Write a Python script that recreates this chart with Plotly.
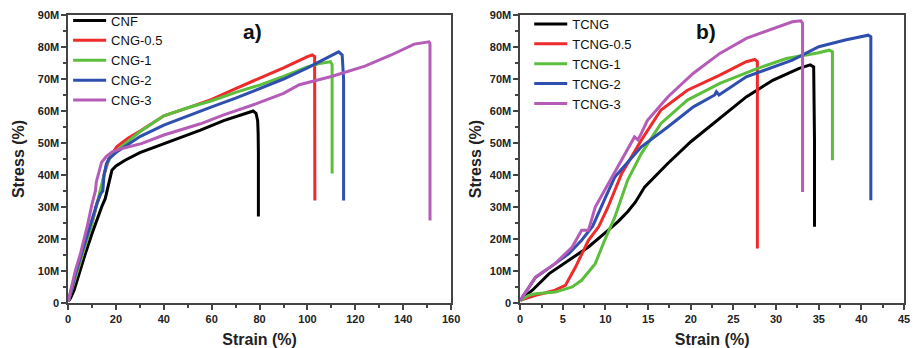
import plotly.graph_objects as go

# ---------------- Panel a) data (strain %, stress in M) ----------------
cnf_x = [0, 1, 2.5, 4.5, 7, 10, 12, 14, 15.5, 17, 18.3, 20, 23.8, 30, 40.2, 55.3, 65, 72, 77.3, 78.5, 79.2, 79.4, 79.5, 79.5]
cnf_y = [0.5, 1.5, 4, 9, 15, 21.7, 26, 30, 32.6, 37.9, 41.5, 42.8, 44.6, 47, 49.8, 54, 57, 58.8, 60, 59.3, 57, 53, 46.7, 27]

cng05_x = [0, 1, 3, 5, 8, 10, 12, 13.5, 15, 17, 20.3, 25, 30.6, 40, 50, 60, 70, 80, 90, 100, 102, 103, 103.1, 103.1]
cng05_y = [0.5, 3, 8, 13, 20, 25, 31, 34, 40, 45, 48.8, 51.5, 54, 58.5, 61, 63.6, 67, 70.2, 73.5, 77, 77.5, 77, 60, 32]

cng1_x = [0, 1, 3, 5, 8, 10, 12, 14, 16, 18, 20, 25, 30, 40, 50, 60, 70, 80, 90, 100, 105, 109.6, 110.3, 110.3]
cng1_y = [0.5, 3, 8, 13, 20, 25, 31, 37, 43, 46, 47.5, 50.5, 53.5, 58.5, 61, 63.2, 65.8, 68.1, 70.8, 73.8, 74.8, 75.4, 74.5, 40.5]

cng2_x = [0, 1, 3, 5, 8, 10, 12, 13.5, 14.5, 15, 16, 17, 20, 25, 30, 40, 50, 60, 70, 80, 90, 100, 108, 113, 114.5, 115.1, 115.1]
cng2_y = [0.5, 3, 9, 14, 21, 26, 31, 34, 35, 40, 43.5, 45, 47, 49.5, 52, 55.6, 58.5, 61.3, 64, 67, 70, 73.5, 76.5, 78.5, 77.5, 70, 32]

cng3_x = [0, 1, 3, 5, 8, 10, 11.4, 11.8, 12.8, 14, 16, 18.3, 22, 30.6, 40, 55.3, 65, 78.7, 90, 96.6, 110, 124, 135, 144.6, 150.8, 151.2, 151.2]
cng3_y = [0.5, 4, 10, 15, 24, 31, 35, 37.9, 41, 44, 45.8, 47.2, 48.2, 49.8, 52.5, 56, 58.8, 62.3, 65.5, 68.2, 70.8, 74, 77.5, 80.9, 81.6, 81, 25.8]

# ---------------- Panel b) data ----------------
tcng_x = [0, 1.43, 3.4, 5.7, 8, 10.3, 11.5, 12.6, 13.5, 14.6, 17.3, 20, 23.4, 26.5, 29.6, 32.7, 34, 34.4, 34.5, 34.5]
tcng_y = [0.8, 4, 9.2, 13.3, 17.5, 22.7, 25.5, 28.5, 31.5, 36.3, 43.6, 50.4, 57.7, 64.4, 69.6, 73.3, 74.4, 73.8, 50, 23.8]

tcng05_x = [0, 1, 1.8, 3, 4.1, 5.3, 6.5, 8, 9.2, 10.3, 11.9, 14.2, 16.5, 19.6, 23.4, 26.5, 27.5, 27.8, 27.8]
tcng05_y = [0.8, 1.8, 2.4, 3.2, 4, 5.5, 11.3, 19.6, 23.8, 30, 40.5, 50.9, 60.3, 66.5, 71.2, 75.4, 76.1, 75.4, 17]

tcng1_x = [0, 1, 1.8, 4.1, 6.1, 7.2, 8.8, 9.9, 11.1, 12.6, 14.2, 16.5, 19.6, 23.4, 27.3, 31.2, 35, 36.2, 36.6, 36.6]
tcng1_y = [0.8, 2.4, 2.9, 3.4, 5, 7.1, 12.3, 19.6, 26.9, 38.4, 46.7, 56.1, 63.4, 68.6, 72.8, 76.4, 78.2, 79, 78.5, 44.6]

tcng2_x = [0, 1, 1.8, 4.1, 5.7, 7.2, 8.5, 10, 11.1, 14.2, 17.3, 20.3, 22.8, 23, 23.3, 26.5, 29.6, 31.9, 35, 38.1, 40.8, 41.1, 41.1]
tcng2_y = [0.8, 5, 8, 12.3, 15.4, 19.6, 24, 33, 39.4, 48.8, 55, 61.3, 65, 66, 65, 70.7, 73.8, 75.9, 80.1, 82.2, 83.7, 83.2, 32.1]

tcng3_x = [0, 1, 1.8, 4.1, 6.1, 7.2, 8, 8.8, 10.3, 11.9, 13.4, 13.8, 14.2, 14.9, 17.3, 20.3, 23.4, 26.5, 29.6, 31.9, 32.9, 33.1, 33.1]
tcng3_y = [0.8, 5, 8.1, 12.3, 17.5, 22.7, 22.7, 30, 37.3, 44.6, 51.9, 51, 53, 57, 64.4, 71.8, 78, 82.7, 85.8, 87.9, 88.2, 87.4, 34.7]

names_a = ["CNF", "CNG-0.5", "CNG-1", "CNG-2", "CNG-3"]
names_b = ["TCNG", "TCNG-0.5", "TCNG-1", "TCNG-2", "TCNG-3"]
colors = ["#000000", "#ee2a2a", "#5cbf3c", "#2f4fae", "#b45cb8"]

y_tickvals = [0, 10, 20, 30, 40, 50, 60, 70, 80, 90]
y_ticktext = ["0", "10M", "20M", "30M", "40M", "50M", "60M", "70M", "80M", "90M"]

series_a = [(cnf_x, cnf_y), (cng05_x, cng05_y), (cng1_x, cng1_y), (cng2_x, cng2_y), (cng3_x, cng3_y)]
series_b = [(tcng_x, tcng_y), (tcng05_x, tcng05_y), (tcng1_x, tcng1_y), (tcng2_x, tcng2_y), (tcng3_x, tcng3_y)]

FONT = "Arial, Liberation Sans, sans-serif"

fig = go.Figure()
for (xs, ys), n, c in zip(series_a, names_a, colors):
    fig.add_trace(go.Scatter(x=xs, y=ys, mode="lines", name=n, line=dict(color=c, width=3),
                             xaxis="x", yaxis="y", legend="legend"))
for (xs, ys), n, c in zip(series_b, names_b, colors):
    fig.add_trace(go.Scatter(x=xs, y=ys, mode="lines", name=n, line=dict(color=c, width=3),
                             xaxis="x2", yaxis="y2", legend="legend2"))

axis_common = dict(showline=True, linecolor="#444444", linewidth=1.5, mirror=True,
                   ticks="outside", ticklen=5, tickwidth=1.5, tickcolor="#444444",
                   showgrid=False, zeroline=False,
                   tickfont=dict(family=FONT, size=11, color="#222222", weight="bold"))
title_font = dict(family=FONT, size=16, color="#222222", weight="bold")

fig.update_layout(
    width=919, height=348,
    margin=dict(l=0, r=0, t=15, b=45),
    paper_bgcolor="white", plot_bgcolor="white",
    showlegend=True,
    xaxis=dict(domain=[0.0718, 0.494], range=[0, 160], tickvals=[0, 20, 40, 60, 80, 100, 120, 140, 160],
               minor=dict(ticks="outside", ticklen=3, dtick=10, tickcolor="#444444"),
               title=dict(text="Strain (%)", font=title_font, standoff=11), anchor="y", **axis_common),
    yaxis=dict(domain=[0, 1], range=[0, 90], tickvals=y_tickvals, ticktext=y_ticktext,
               minor=dict(ticks="outside", ticklen=3, dtick=5, tickcolor="#444444"),
               title=dict(text="Stress (%)", font=title_font, standoff=9), anchor="x", **axis_common),
    xaxis2=dict(domain=[0.5702, 0.9935], range=[0, 45], tickvals=[0, 5, 10, 15, 20, 25, 30, 35, 40, 45],
                minor=dict(ticks="outside", ticklen=3, dtick=2.5, tickcolor="#444444"),
                title=dict(text="Strain (%)", font=title_font, standoff=11), anchor="y2", **axis_common),
    yaxis2=dict(domain=[0, 1], range=[0, 90], tickvals=y_tickvals, ticktext=y_ticktext,
                minor=dict(ticks="outside", ticklen=3, dtick=5, tickcolor="#444444"),
                title=dict(text="Stress (%)", font=title_font, standoff=4), anchor="x2", **axis_common),
    legend=dict(x=0.0718, xanchor="left", y=1.033, yanchor="top", bgcolor="rgba(0,0,0,0)",
                font=dict(family=FONT, size=13, color="#111111"), itemwidth=33, tracegroupgap=0),
    legend2=dict(x=0.5802, xanchor="left", y=1.021, yanchor="top", bgcolor="rgba(0,0,0,0)",
                 font=dict(family=FONT, size=13, color="#111111"), itemwidth=33, tracegroupgap=0),
    annotations=[
        dict(text="a)", x=0.275, y=0.941, xref="paper", yref="paper", showarrow=False,
             xanchor="center", yanchor="middle",
             font=dict(family=FONT, size=21, color="#111111", weight="bold")),
        dict(text="b)", x=0.775, y=0.941, xref="paper", yref="paper", showarrow=False,
             xanchor="center", yanchor="middle",
             font=dict(family=FONT, size=21, color="#111111", weight="bold")),
    ],
)

fig.write_html("out.html")
